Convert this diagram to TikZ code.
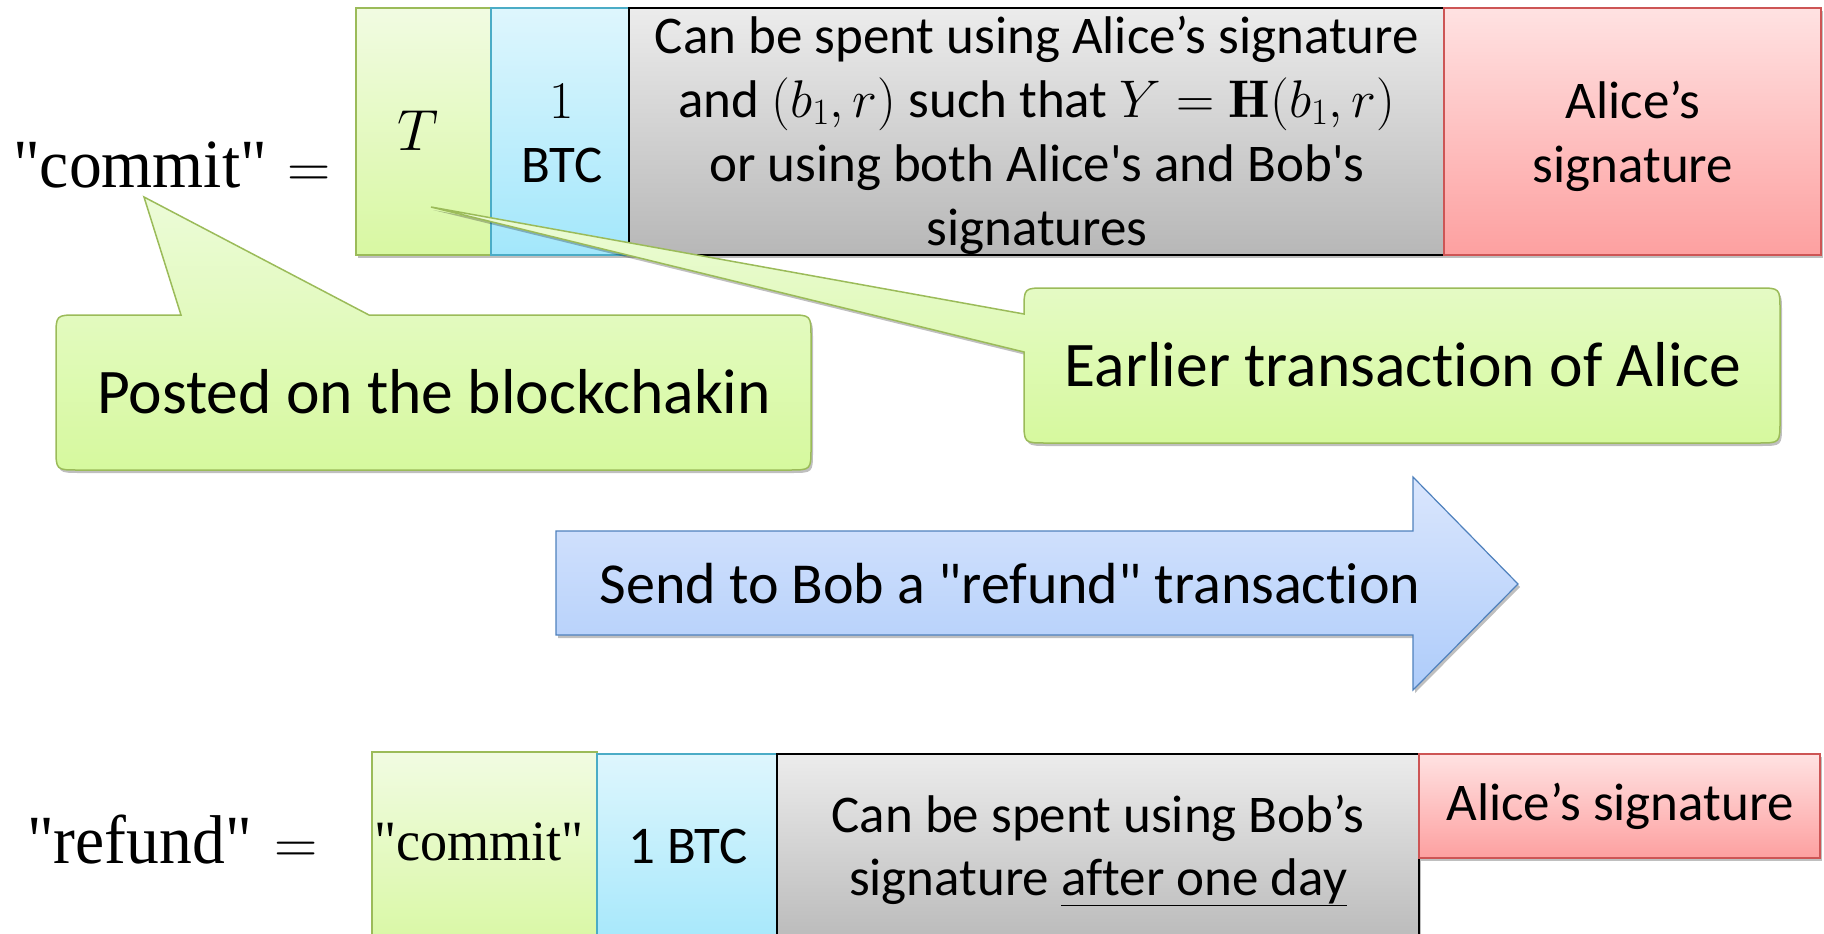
\RequirePackage{fix-cm}
\documentclass[tikz,border=0pt]{standalone}
\usepackage{fontspec}
\newfontfamily\calfont[Ligatures={TeXOff,CommonOff}]{Carlito}
\newfontfamily\serfont[FakeStretch=0.95,Ligatures={TeXOff,CommonOff}]{Liberation Serif}
\usetikzlibrary{shadows}
\setlength{\lineskiplimit}{-100pt}
\definecolor{accG}{RGB}{155,187,89}
\definecolor{gT}{RGB}{241,251,226}
\definecolor{gB}{RGB}{216,248,162}
\definecolor{accB}{RGB}{75,172,198}
\definecolor{bT}{RGB}{222,246,253}
\definecolor{bB}{RGB}{163,231,251}
\definecolor{accR}{RGB}{205,85,85}
\definecolor{rT}{RGB}{255,226,226}
\definecolor{rB}{RGB}{253,160,160}
\definecolor{kT}{RGB}{236,236,236}
\definecolor{kB}{RGB}{183,183,183}
\definecolor{accA}{RGB}{79,129,189}
\definecolor{aT}{RGB}{218,230,253}
\definecolor{aB}{RGB}{174,204,250}
\definecolor{cT}{RGB}{236,251,216}
\definecolor{cB}{RGB}{214,249,158}
\tikzset{
  shad/.style={drop shadow={shadow xshift=2pt,shadow yshift=-3pt,opacity=0.25,fill=black}},
  cell/.style={rectangle,inner sep=0pt,outer sep=0pt,line width=1.5pt,anchor=north west,shad},
  grncell/.style={cell,draw=accG,top color=gT,bottom color=gB},
  blucell/.style={cell,draw=accB,top color=bT,bottom color=bB},
  graycell/.style={cell,draw=black,top color=kT,bottom color=kB},
  redcell/.style={cell,draw=accR,top color=rT,bottom color=rB},
  callout/.style={draw=accG,line width=1.5pt,top color=cT,bottom color=cB,shad},
  sendarrow/.style={draw=accA,line width=1.2pt,top color=aT,bottom color=aB,shad},
  txt/.style={inner sep=0pt,anchor=base,align=center,
    font={\calfont\fontsize{53}{64}\selectfont}},
  txtb/.style={txt,font={\calfont\fontsize{53}{63}\selectfont}},
  ctxt/.style={inner sep=0pt,anchor=base,font={\calfont\fontsize{63.5}{76}\selectfont}},
  atxt/.style={inner sep=0pt,anchor=base,font={\calfont\fontsize{58}{70}\selectfont}},
  ser/.style={inner sep=0pt,anchor=base west,font={\serfont\fontsize{69}{80}\selectfont}},
  sersmall/.style={inner sep=0pt,anchor=base,font={\serfont\fontsize{57}{66}\selectfont}},
  eqs/.style={inner sep=0pt,anchor=base west,font={\fontsize{60}{70}\selectfont}},
  mth/.style={inner sep=0pt,anchor=base,font={\fontsize{58}{70}\selectfont}},
}
\begin{document}
\begin{tikzpicture}[x=1pt,y=-1pt]
\useasboundingbox (0,0) rectangle (1824,934);
\clip (0,0) rectangle (1824,934);

% top transaction
\node[grncell,minimum width=135pt,minimum height=247pt] (tgreen) at (356,8) {};
\node[blucell,minimum width=138pt,minimum height=247pt] (tblue) at (491,8) {};
\node[graycell,minimum width=815pt,minimum height=247pt] (tgray) at (629,8) {};
\node[redcell,minimum width=377pt,minimum height=247pt] (tred) at (1444,8) {};

% bottom transaction
\node[grncell,minimum width=225pt,minimum height=200pt] (bgreen) at (372,752) {};
\node[blucell,minimum width=180pt,minimum height=200pt] (bblue) at (597,754) {};
\node[graycell,minimum width=642pt,minimum height=200pt] (bgray) at (777,754) {};
\node[redcell,minimum width=401pt,minimum height=104pt] (bred) at (1419,754) {};

% arrow
\path[sendarrow] (556,531) -- (1413,531) -- (1413,477) -- (1518,584)
  -- (1413,690) -- (1413,635) -- (556,635) -- cycle;

% callout: posted
\path[callout] (56,337) .. controls (56,315) .. (78,315) -- (181,315) -- (144,197)
  -- (369,315) -- (789,315) .. controls (811,315) .. (811,337) -- (811,448)
  .. controls (811,470) .. (789,470) -- (78,470) .. controls (56,470) .. (56,448) -- cycle;

% callout: earlier
\path[callout] (1046,288) -- (1758,288) .. controls (1780,288) .. (1780,310)
  -- (1780,421) .. controls (1780,443) .. (1758,443) -- (1046,443)
  .. controls (1024,443) .. (1024,421) -- (1024,352) -- (431,207) -- (1024,314)
  -- (1024,310) .. controls (1024,288) .. (1046,288) -- cycle;

% labels
\node[ser] (lcommit) at (13,187) {"commit"};
\node[eqs] (eqa) at (287,187) {$=$};
\node[ser] (lrefund) at (27,863) {"refund"};
\node[eqs] (eqb) at (274,863) {$=$};

% top texts
\node[mth] (ttxt) at (418,150) {$T$};
\node[txt] (btctop) at (562,182) {$1$\\BTC};
\node[txt] (condtop) at (1037,245) {Can be spent using Alice’s signature\\and $(b_1,r)$ such that $Y=\mathbf{H}(b_1,r)$\\or using both Alice's and Bob's\\signatures};
\node[txt] (sigtop) at (1633,182) {Alice’s\\signature};

% bottom texts
\node[sersmall] (bcommittxt) at (479,860) {"commit"};
\node[txt] (btcbot) at (688,863) {1 BTC};
\node[txtb] (condbot) at (1098,895) {Can be spent using Bob’s\\signature \underline{after one day}};
\node[txt] (sigbot) at (1620,820) {Alice’s signature};

% callout and arrow texts
\node[ctxt] (posted) at (434,413) {Posted on the blockchakin};
\node[ctxt] (earlier) at (1403,386) {Earlier transaction of Alice};
\node[atxt] (send) at (1010,603) {Send to Bob a "refund" transaction};
\end{tikzpicture}
\end{document}
